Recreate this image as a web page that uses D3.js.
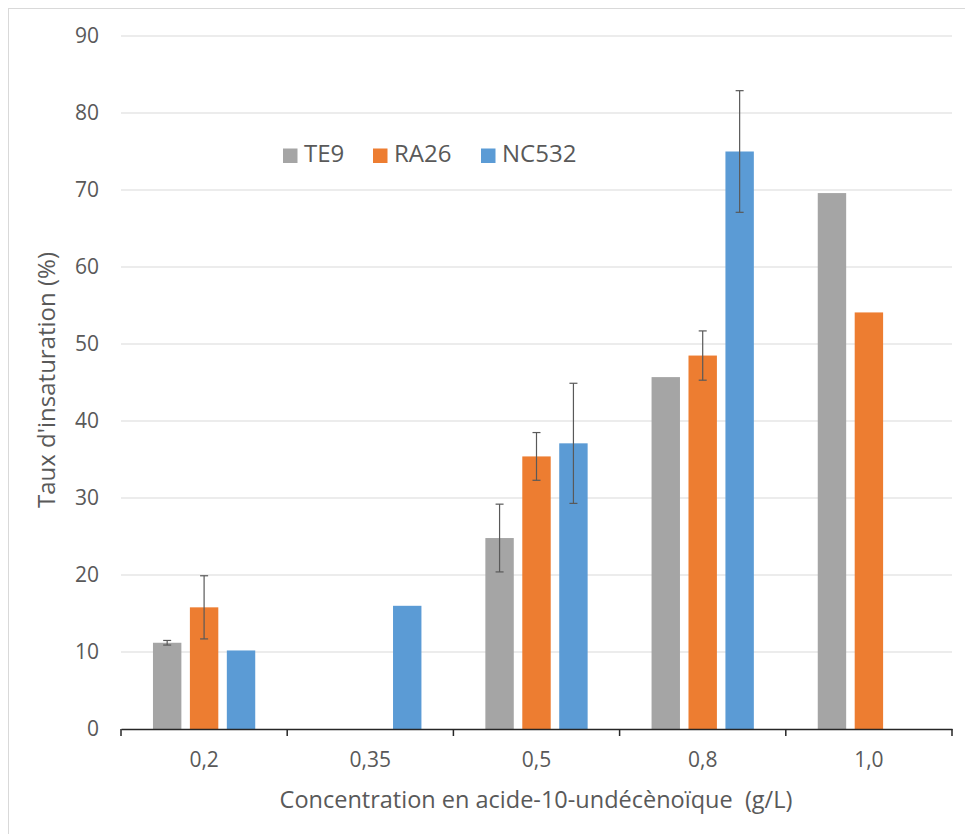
<!DOCTYPE html>
<html>
<head>
<meta charset="utf-8">
<script src="https://cdn.jsdelivr.net/npm/d3@7"></script>
<style>
  body { margin: 0; background: #fff; }
  text { font-family: "Open Sans", "Noto Sans", sans-serif; }
</style>
</head>
<body>
<script>
// data
const categories = ["0,2", "0,35", "0,5", "0,8", "1,0"];
const seriesNames = ["TE9", "RA26", "NC532"];
const colors = ["#A5A5A5", "#ED7D31", "#5B9BD5"];
const te9 = [11.2, null, 24.8, 45.7, 69.6];
const ra26 = [15.8, null, 35.4, 48.5, 54.1];
const nc532 = [10.2, 16.0, 37.1, 75.0, null];
const te9Err = [0.3, null, 4.4, null, null];
const ra26Err = [4.1, null, 3.1, 3.2, null];
const nc532Err = [null, null, 7.8, 7.9, null];
const yTicks = [0, 10, 20, 30, 40, 50, 60, 70, 80, 90];

const values = [te9, ra26, nc532];
const errors = [te9Err, ra26Err, nc532Err];

const svg = d3.select('body')
  .append('svg')
  .attr('width', 965)
  .attr('height', 834);

// outer frame
svg.append("rect")
  .attr("x", 8.5).attr("y", 8.5)
  .attr("width", 980).attr("height", 840)
  .attr("fill", "none")
  .attr("stroke", "#D9D9D9");

const x = d3.scaleBand()
  .domain(categories)
  .range([121, 952]);

// excel style: gap width 225%, overlap -30%
const bw = x.bandwidth() / 5.85;
const groupOffset = (x.bandwidth() - bw * 3.6) / 2;

const y = d3.scaleLinear()
  .domain([0, 90])
  .range([729, 36]);

// gridlines
svg.append("g")
  .selectAll("line")
  .data(yTicks.slice(1))
  .enter()
  .append("line")
  .attr("x1", 121).attr("x2", 952)
  .attr("y1", d => y(d)).attr("y2", d => y(d))
  .attr("stroke", "#D9D9D9")
  .attr("stroke-width", 1);

// y axis labels
const yAxis = svg.append("g")
  .attr("transform", "translate(121,0)")
  .call(d3.axisLeft(y).tickValues(yTicks).tickSize(0).tickPadding(22));
yAxis.select(".domain").remove();
yAxis.selectAll("text")
  .attr("fill", "#595959")
  .style("font-size", "21px")
  .style("font-family", "'Open Sans', sans-serif");

// bars
seriesNames.forEach((name, s) => {
  const g = svg.append("g");
  const rows = categories.map((c, i) => ({ c: c, v: values[s][i], e: errors[s][i] }))
    .filter(d => d.v != null);
  const bx = d => x(d.c) + groupOffset + s * bw * 1.3;
  g.selectAll("rect")
    .data(rows)
    .enter()
    .append("rect")
    .attr("x", bx)
    .attr("y", d => y(d.v))
    .attr("width", bw)
    .attr("height", d => y(0) - y(d.v))
    .attr("fill", colors[s]);

  const eb = g.selectAll("g.err")
    .data(rows.filter(d => d.e != null))
    .enter()
    .append("g")
    .attr("class", "err")
    .attr("stroke", "#595959")
    .attr("stroke-width", 1.2);
  const cx = d => bx(d) + bw / 2;
  eb.append("line")
    .attr("x1", cx).attr("x2", cx)
    .attr("y1", d => y(d.v + d.e)).attr("y2", d => y(d.v - d.e));
  eb.append("line")
    .attr("x1", d => cx(d) - 4).attr("x2", d => cx(d) + 4)
    .attr("y1", d => y(d.v + d.e)).attr("y2", d => y(d.v + d.e));
  eb.append("line")
    .attr("x1", d => cx(d) - 4).attr("x2", d => cx(d) + 4)
    .attr("y1", d => y(d.v - d.e)).attr("y2", d => y(d.v - d.e));
});

// x axis
const xAxis = svg.append("g")
  .attr("transform", "translate(0,729)")
  .call(d3.axisBottom(x).tickSize(0).tickPadding(23));
xAxis.select(".domain")
  .attr("stroke", "#262626")
  .attr("stroke-width", 1.5);
xAxis.selectAll("text")
  .attr("fill", "#595959")
  .style("font-size", "21px")
  .style("font-family", "'Open Sans', sans-serif");
// category boundary ticks
svg.append("g")
  .selectAll("line")
  .data(categories.map(c => x(c)).concat([x.range()[1]]))
  .enter()
  .append("line")
  .attr("x1", d => d).attr("x2", d => d)
  .attr("y1", 729).attr("y2", 736)
  .attr("stroke", "#262626")
  .attr("stroke-width", 1.5);

// axis titles
svg.append("text")
  .attr("x", 536)
  .attr("y", 808)
  .attr("text-anchor", "middle")
  .attr("fill", "#595959")
  .style("font-size", "23.5px")
  .style("white-space", "pre")
  .text("Concentration en acide-10-undécènoïque  (g/L)");

svg.append("text")
  .attr("transform", "translate(55,380) rotate(-90)")
  .attr("text-anchor", "middle")
  .attr("fill", "#595959")
  .style("font-size", "24px")
  .text("Taux d'insaturation (%)");

// legend
const legendX = [283, 373, 481];
const legend = svg.append("g");
seriesNames.forEach((name, s) => {
  legend.append("rect")
    .attr("x", legendX[s]).attr("y", 148.5)
    .attr("width", 14.5).attr("height", 14.5)
    .attr("fill", colors[s]);
  legend.append("text")
    .attr("x", legendX[s] + 21).attr("y", 162)
    .attr("fill", "#595959")
    .style("font-size", "24px")
    .text(name);
});
</script>
</body>
</html>
